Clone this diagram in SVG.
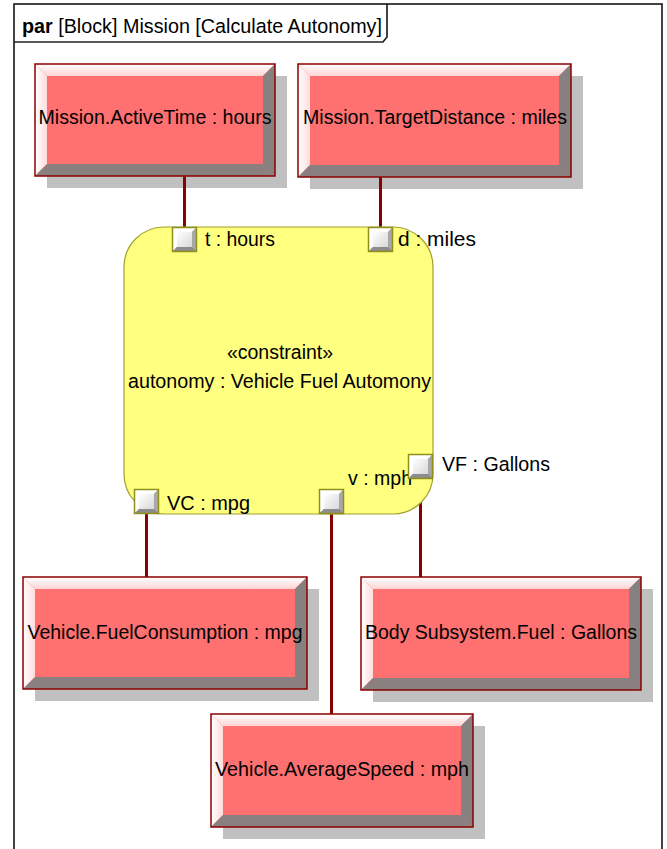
<svg xmlns="http://www.w3.org/2000/svg" xmlns:xlink="http://www.w3.org/1999/xlink" width="667" height="849" viewBox="0 0 667 849">
<style>
  text { font-family: "Liberation Sans", Arial, sans-serif; fill: #000; font-size: 20.5px; }
  .btxt { text-anchor: middle; }
  .shadow { fill: #c0c0c0; }
  .outer { fill: none; stroke: #8b0000; stroke-width: 1.5; }
  .face { fill: #ff7070; }
  .bt { fill: url(#gTop); }
  .bl { fill: url(#gLeft); }
  .br { fill: #878080; }
  .bb { fill: #8a8080; }
  .conn { stroke: #8b0000; stroke-width: 3; fill: none; }
  .frame { fill: none; stroke: #222; stroke-width: 1.7; }
</style>
<defs>
  <linearGradient id="gTop" x1="0" y1="0" x2="0" y2="1">
    <stop offset="0" stop-color="#ffffff"/>
    <stop offset="1" stop-color="#ffd4d4"/>
  </linearGradient>
  <linearGradient id="gLeft" x1="0" y1="0" x2="1" y2="0">
    <stop offset="0" stop-color="#ffffff"/>
    <stop offset="1" stop-color="#ffdcdc"/>
  </linearGradient>
  <linearGradient id="gPort" x1="0" y1="0" x2="1" y2="1">
    <stop offset="0" stop-color="#ffffff"/>
    <stop offset="1" stop-color="#d8d8d8"/>
  </linearGradient>
  <g id="port">
    <rect x="0" y="0" width="25" height="25" fill="#9a9a9a"/>
    <polygon points="0,0 25,0 20,5 5,5 5,20 0,25" fill="#ffffff"/>
    <polygon points="25,0 25,25 20,20 20,5" fill="#a8a8a8"/>
    <polygon points="0,25 5,20 20,20 25,25" fill="#8c8c8c"/>
    <rect x="5" y="5" width="15" height="15" fill="url(#gPort)"/>
    <rect x="0.5" y="0.5" width="24" height="24" fill="none" stroke="#8f8f1a" stroke-width="1.5"/>
  </g>
</defs>

<rect width="667" height="849" fill="#ffffff"/>

<g id="frame">
  <rect class="frame" x="14" y="4" width="648" height="860"/>
  <path class="frame" d="M14,42 L383,42 L387,37 L387,4"/>
  <text x="22" y="33" textLength="360" lengthAdjust="spacingAndGlyphs"><tspan font-weight="bold">par</tspan> [Block] Mission [Calculate Autonomy]</text>
</g>

<g id="shadows">
  <rect class="shadow" x="47" y="76" width="240" height="112"/>
  <rect class="shadow" x="310" y="76" width="273" height="113"/>
  <rect class="shadow" x="35" y="589" width="284" height="112"/>
  <rect class="shadow" x="373" y="589" width="280" height="113"/>
  <rect class="shadow" x="223" y="726" width="262" height="113"/>
</g>

<g id="connectors">
  <line class="conn" x1="184.5" y1="176" x2="184.5" y2="227"/>
  <line class="conn" x1="380.5" y1="177" x2="380.5" y2="227"/>
  <line class="conn" x1="146.5" y1="514" x2="146.5" y2="577"/>
  <line class="conn" x1="331.5" y1="514" x2="331.5" y2="714"/>
  <line class="conn" x1="420.5" y1="479" x2="420.5" y2="577"/>
</g>

<g id="activeTime">
  <rect class="face" x="35" y="64" width="240" height="112"/>
  <polygon class="bt" points="35,64 275,64 263,76 47,76"/>
  <polygon class="bl" points="35,64 47,76 47,164 35,176"/>
  <polygon class="br" points="275,64 275,176 263,164 263,76"/>
  <polygon class="bb" points="35,176 47,164 263,164 275,176"/>
  <rect class="outer" x="35" y="64" width="240" height="112"/>
  <text class="btxt" x="155" y="124" textLength="233" lengthAdjust="spacingAndGlyphs">Mission.ActiveTime : hours</text>
</g>

<g id="targetDistance">
  <rect class="face" x="298" y="64" width="273" height="113"/>
  <polygon class="bt" points="298,64 571,64 559,76 310,76"/>
  <polygon class="bl" points="298,64 310,76 310,165 298,177"/>
  <polygon class="br" points="571,64 571,177 559,165 559,76"/>
  <polygon class="bb" points="298,177 310,165 559,165 571,177"/>
  <rect class="outer" x="298" y="64" width="273" height="113"/>
  <text class="btxt" x="435" y="124" textLength="264" lengthAdjust="spacingAndGlyphs">Mission.TargetDistance : miles</text>
</g>

<g id="autonomy">
  <rect x="124" y="227" width="309" height="287" rx="40" ry="40" fill="#ffff80" stroke="#a0a030" stroke-width="1.2"/>
  <text class="btxt" x="280" y="359" style="font-size:19.5px">«constraint»</text>
  <text class="btxt" x="279.5" y="388" textLength="303" lengthAdjust="spacingAndGlyphs">autonomy : Vehicle Fuel Automony</text>
</g>

<g id="port_t">
  <use xlink:href="#port" x="172" y="227"/>
  <text x="205" y="246" textLength="70" lengthAdjust="spacingAndGlyphs">t : hours</text>
</g>
<g id="port_d">
  <use xlink:href="#port" x="368" y="227"/>
  <text x="398" y="246" textLength="78" lengthAdjust="spacingAndGlyphs">d : miles</text>
</g>
<g id="port_VC">
  <use xlink:href="#port" x="134" y="489"/>
  <text x="167" y="510" textLength="83" lengthAdjust="spacingAndGlyphs">VC : mpg</text>
</g>
<g id="port_v">
  <use xlink:href="#port" x="319" y="489"/>
  <text x="348" y="485" textLength="64" lengthAdjust="spacingAndGlyphs">v : mph</text>
</g>
<g id="port_VF">
  <use xlink:href="#port" x="408" y="454"/>
  <text x="442" y="471" textLength="108" lengthAdjust="spacingAndGlyphs">VF : Gallons</text>
</g>

<g id="fuelConsumption">
  <rect class="face" x="23" y="577" width="284" height="112"/>
  <polygon class="bt" points="23,577 307,577 295,589 35,589"/>
  <polygon class="bl" points="23,577 35,589 35,677 23,689"/>
  <polygon class="br" points="307,577 307,689 295,677 295,589"/>
  <polygon class="bb" points="23,689 35,677 295,677 307,689"/>
  <rect class="outer" x="23" y="577" width="284" height="112"/>
  <text class="btxt" x="165" y="639" textLength="275" lengthAdjust="spacingAndGlyphs">Vehicle.FuelConsumption : mpg</text>
</g>

<g id="bodyFuel">
  <rect class="face" x="361" y="577" width="280" height="113"/>
  <polygon class="bt" points="361,577 641,577 629,589 373,589"/>
  <polygon class="bl" points="361,577 373,589 373,678 361,690"/>
  <polygon class="br" points="641,577 641,690 629,678 629,589"/>
  <polygon class="bb" points="361,690 373,678 629,678 641,690"/>
  <rect class="outer" x="361" y="577" width="280" height="113"/>
  <text class="btxt" x="501" y="639" textLength="272" lengthAdjust="spacingAndGlyphs">Body Subsystem.Fuel : Gallons</text>
</g>

<g id="averageSpeed">
  <rect class="face" x="211" y="714" width="262" height="113"/>
  <polygon class="bt" points="211,714 473,714 461,726 223,726"/>
  <polygon class="bl" points="211,714 223,726 223,815 211,827"/>
  <polygon class="br" points="473,714 473,827 461,815 461,726"/>
  <polygon class="bb" points="211,827 223,815 461,815 473,827"/>
  <rect class="outer" x="211" y="714" width="262" height="113"/>
  <text class="btxt" x="342" y="776" textLength="254" lengthAdjust="spacingAndGlyphs">Vehicle.AverageSpeed : mph</text>
</g>
</svg>
